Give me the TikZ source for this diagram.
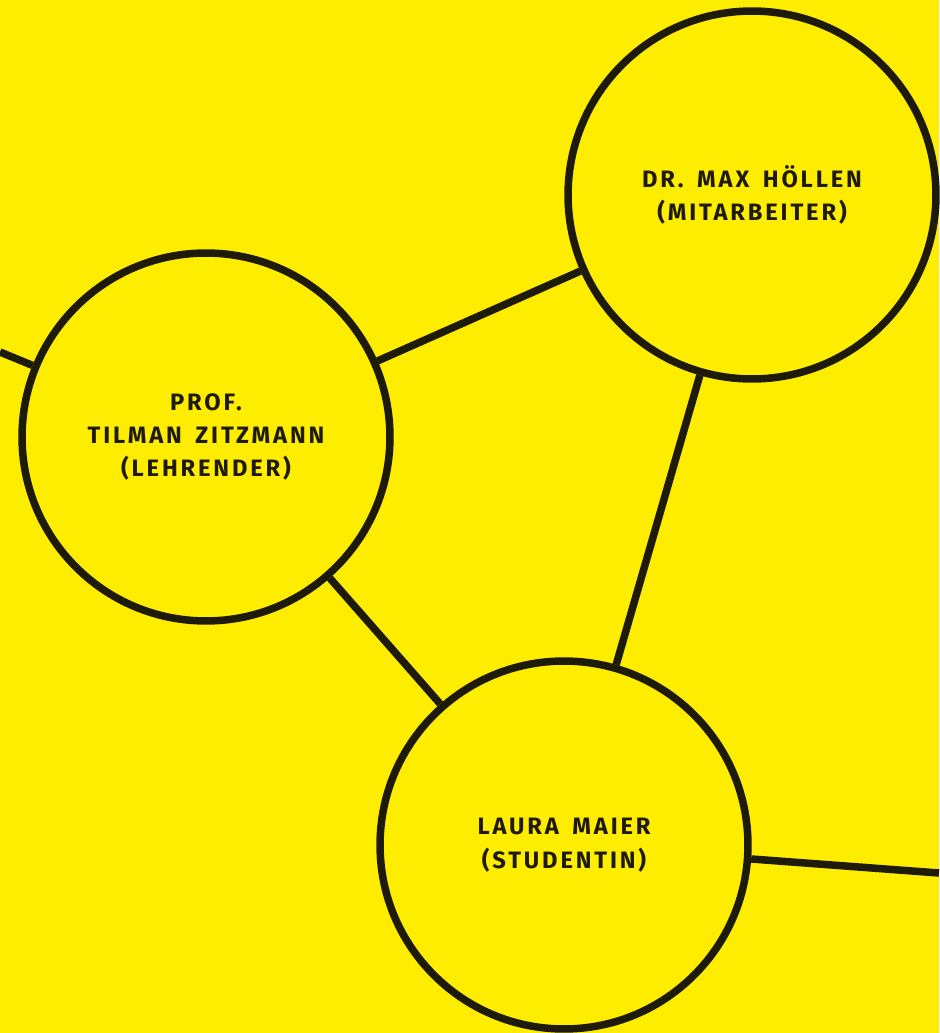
\documentclass[tikz,border=0pt]{standalone}
\usepackage{fontspec}
\setmainfont{Fira Sans}[LetterSpace=12, WordSpace=1.6]
\usepackage{xcolor}
\definecolor{gelb}{HTML}{FFED00}
\definecolor{dunkel}{HTML}{1F1B0A}

\begin{document}
\begin{tikzpicture}[x=0.02cm, y=-0.02cm,
    person/.style={circle, draw=dunkel, fill=gelb, line width=0.15cm,
      minimum size=7.36cm, inner sep=0pt, align=center, text=dunkel,
      font=\bfseries\fontsize{13.5}{19}\selectfont},
    kante/.style={draw=dunkel, line width=0.15cm}]
    % Hintergrund
    \fill[gelb] (0,0) rectangle (939,1033);
    \useasboundingbox (0,0) rectangle (939,1033);

    % Personen
    \node[person] (tilman) at (206,437) {PROF.\\TILMAN ZITZMANN\\(LEHRENDER)};
    \node[person] (max) at (752,195) {DR. MAX HÖLLEN\\(MITARBEITER)};
    \node[person] (laura) at (564,845) {LAURA MAIER\\(STUDENTIN)};
    \coordinate (links) at (0,352);
    \coordinate (rechts) at (939,873);

    % Verbindungen
    \draw[kante] (links) -- (tilman);
    \draw[kante] (tilman) -- (max);
    \draw[kante] (max) -- (laura);
    \draw[kante] (tilman) -- (laura);
    \draw[kante] (laura) -- (rechts);
\end{tikzpicture}
\end{document}
